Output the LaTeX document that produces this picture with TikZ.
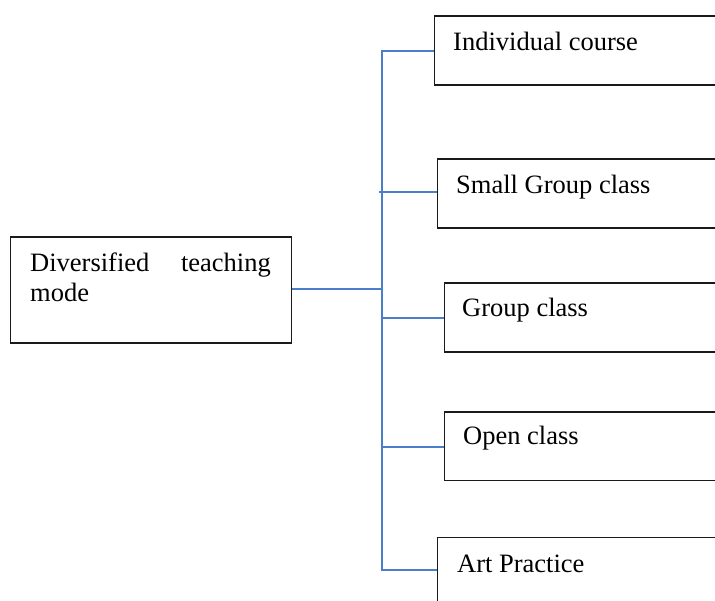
\documentclass[tikz,border=0pt]{standalone}
\usepackage{fontspec}
\setmainfont{Liberation Serif}
\definecolor{conn}{HTML}{4A7EC8}
\definecolor{edge}{HTML}{1A1A1A}
\begin{document}
\begin{tikzpicture}[x=1pt,y=-1pt,
  boxstyle/.style={draw=edge,line width=1.2pt,rectangle,inner sep=0pt,anchor=north west},
  txt/.style={anchor=base west,inner sep=0pt,font=\fontsize{26.5}{30}\selectfont},
  connline/.style={draw=conn,line width=2pt}]
\useasboundingbox (0,0) rectangle (715,601);
\clip (0,0) rectangle (715,601);
\fill[white] (0,0) rectangle (715,601);
% boxes
\node[boxstyle,minimum width=281pt,minimum height=106pt] (main) at (9.5,236.5) {};
\node[boxstyle,minimum width=281pt,minimum height=69pt] (box1) at (433.5,15.5) {};
\node[boxstyle,minimum width=300pt,minimum height=69pt] (box2) at (436.5,158.5) {};
\node[boxstyle,minimum width=300pt,minimum height=69pt] (box3) at (443.5,282.5) {};
\node[boxstyle,minimum width=300pt,minimum height=68pt] (box4) at (443.5,411.5) {};
\node[boxstyle,minimum width=300pt,minimum height=69pt] (box5) at (436.5,536.5) {};
% texts
\node[txt] (t0a) at (30,272) {Diversified};
\node[txt,anchor=base east] (t0b) at (271,272) {teaching};
\node[txt] (t0c) at (30,302) {mode};
\node[txt] (t1) at (453,51) {Individual course};
\node[txt] (t2) at (456,194) {Small Group class};
\node[txt] (t3) at (462,317) {Group class};
\node[txt] (t4) at (463,445) {Open class};
\node[txt] (t5) at (457,572) {Art Practice};
% connectors
\coordinate (tt) at (382,0);
\coordinate (y1) at (0,51);
\coordinate (y0) at (0,289);
\coordinate (y2) at (0,192);
\coordinate (y3) at (0,318);
\coordinate (y4) at (0,447);
\coordinate (y5) at (0,570);
\draw[connline] (main.east |- y0) -- (tt |- y0);
\draw[connline] (box1.west |- y1) -- (tt |- y1) -- (tt |- y5) -- (box5.west |- y5);
\draw[connline] ([xshift=-3pt]tt |- y2) -- (box2.west |- y2);
\draw[connline] (tt |- y3) -- (box3.west |- y3);
\draw[connline] (tt |- y4) -- (box4.west |- y4);
\end{tikzpicture}
\end{document}
